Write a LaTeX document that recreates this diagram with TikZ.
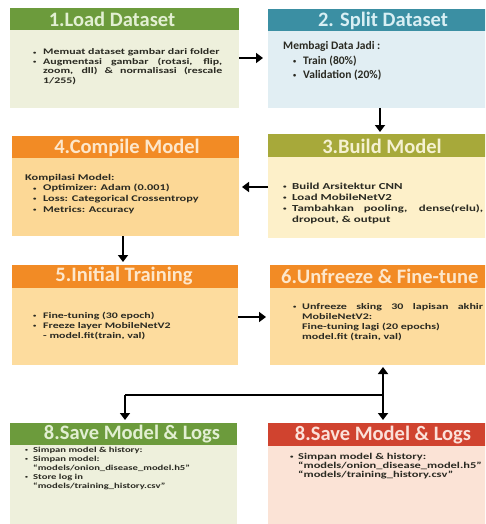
\documentclass[tikz,border=0pt]{standalone}
\usepackage{fontspec}
\usepackage{graphicx}
\setmainfont{Carlito}
\newfontfamily\fA{Carlito}[FakeStretch=1.4]
\newfontfamily\fT{Carlito}
\usetikzlibrary{arrows.meta}
\definecolor{gT}{HTML}{6C9B3C}\definecolor{gB}{HTML}{EEF0DC}\definecolor{gX}{HTML}{E2EFD2}
\definecolor{tT}{HTML}{3B8FA3}\definecolor{tB}{HTML}{E1EEF3}\definecolor{tX}{HTML}{D8EFF4}
\definecolor{oT}{HTML}{A7A93A}\definecolor{oB}{HTML}{FDF0C9}\definecolor{oX}{HTML}{F5F1D2}
\definecolor{rT}{HTML}{F28B25}\definecolor{rB}{HTML}{FCD896}\definecolor{rB2}{HTML}{FDDC9E}\definecolor{rX}{HTML}{FDE7CB}
\definecolor{dT}{HTML}{D0432F}\definecolor{dB}{HTML}{FBE3D6}\definecolor{dX}{HTML}{FBE1D9}
\definecolor{txt}{HTML}{2A2A22}
\newlength\bind
\newcommand\mybul{\raisebox{0.18ex}{\scalebox{0.55}{\textbullet}}}
\newcommand\bitem[1]{\par\hangindent=\bind\hangafter=1\noindent\makebox[\bind][l]{\mybul}#1}
\tikzset{
  panel/.style={rectangle, inner sep=0pt, outer sep=0pt, anchor=north west},
  ttl/.style={inner sep=0pt, font=\fT\bfseries\fontsize{20.5}{22}\selectfont},
  body/.style={inner sep=0pt, anchor=base west, text=txt},
  arr/.style={line width=2.8pt, -{Triangle[width=10pt,length=7pt]}},
  conn/.style={line width=2.3pt}
}
\begin{document}
\begin{tikzpicture}[x=1pt,y=-1pt]
\useasboundingbox (0,0) rectangle (485,524);
\fill[white] (0,0) rectangle (485,524);
\clip (0,0) rectangle (485,524);
% panels
\node[panel, fill=gT, minimum width=229pt, minimum height=22pt] (b1h) at (10,8) {};
\node[panel, fill=gB, minimum width=229pt, minimum height=78pt] (b1) at (10,30) {};
\node[panel, fill=tT, minimum width=229pt, minimum height=22pt] (b2h) at (268,9) {};
\node[panel, fill=tB, minimum width=229pt, minimum height=77pt] (b2) at (268,31) {};
\node[panel, fill=oT, minimum width=229pt, minimum height=23pt] (b3h) at (268,134) {};
\node[panel, fill=oB, minimum width=229pt, minimum height=81pt] (b3) at (268,157) {};
\node[panel, fill=rT, minimum width=227pt, minimum height=22pt] (b4h) at (12,136) {};
\node[panel, fill=rB, minimum width=227pt, minimum height=78pt] (b4) at (12,158) {};
\node[panel, fill=rT, minimum width=226pt, minimum height=23pt] (b5h) at (12,265) {};
\node[panel, fill=rB2, minimum width=226pt, minimum height=77pt] (b5) at (12,288) {};
\node[panel, fill=rT, minimum width=227pt, minimum height=23pt] (b6h) at (270,265) {};
\node[panel, fill=rB2, minimum width=227pt, minimum height=77pt] (b6) at (270,288) {};
\node[panel, fill=gT, minimum width=227pt, minimum height=22pt] (b8lh) at (10,423) {};
\node[panel, fill=gB, minimum width=227pt, minimum height=85pt] (b8l) at (10,445) {};
\node[panel, fill=dT, minimum width=229pt, minimum height=23pt] (b8rh) at (268,423) {};
\node[panel, fill=dB, minimum width=229pt, minimum height=85pt] (b8r) at (268,446) {};
% titles
\node[ttl, text=gX] (t1) at (112,19.5) {1.Load Dataset};
\node[ttl, text=tX] (t2) at (383,20.5) {2. Split Dataset};
\node[ttl, text=oX] (t3) at (382,146) {3.Build Model};
\node[ttl, text=rX] (t4) at (127,147.5) {4.Compile Model};
\node[ttl, text=rX] (t5) at (124,276.5) {5.Initial Training};
\node[ttl, text=rX, anchor=west] (t6) at (281,276.5) {6.Unfreeze \& Fine-tune};
\node[ttl, text=gX] (t8l) at (132,434.5) {8.Save Model \& Logs};
\node[ttl, text=dX] (t8r) at (383,435) {8.Save Model \& Logs};
% bodies
\node[body] (x1) at (33,55) {\parbox[t]{189pt}{\fA\bfseries\fontsize{8.5}{9.5}\selectfont\setlength\bind{10pt}%
\bitem{Memuat dataset gambar dari folder}%
\bitem{Augmentasi gambar (rotasi, flip,\linebreak zoom, dll) \& normalisasi (rescale\linebreak 1/255)}}};
\node[body] (x2) at (283,50) {\parbox[t]{190pt}{\fT\bfseries\fontsize{11.5}{14.5}\selectfont\setlength\bind{10pt}%
Membagi Data Jadi :\par\leftskip=10pt
\bitem{Train (80\%)}%
\bitem{Validation (20\%)}}};
\node[body] (x3) at (283,189) {\parbox[t]{200pt}{\fA\bfseries\fontsize{9.2}{11}\selectfont\setlength\bind{9pt}%
\bitem{Build Arsitektur CNN}%
\bitem{Load MobileNetV2}%
\bitem{Tambahkan pooling, dense(relu),\linebreak dropout, \& output}}};
\node[body] (x4) at (25,180) {\parbox[t]{200pt}{\fA\bfseries\fontsize{8.8}{10.8}\selectfont\setlength\bind{10pt}%
Kompilasi Model:\par\leftskip=8pt
\bitem{Optimizer: Adam (0.001)}%
\bitem{Loss: Categorical Crossentropy}%
\bitem{Metrics: Accuracy}}};
\node[body] (x5) at (33,318.5) {\parbox[t]{190pt}{\fA\bfseries\fontsize{8.5}{10.2}\selectfont\setlength\bind{10pt}%
\bitem{Fine-tuning (30 epoch)}%
\bitem{Freeze layer MobileNetV2\\- model.fit(train, val)}}};
\node[body] (x6) at (293,309) {\parbox[t]{190pt}{\fA\bfseries\fontsize{8.6}{10}\selectfont\setlength\bind{9pt}%
\bitem{Unfreeze sking 30 lapisan akhir\linebreak MobileNetV2:\\Fine-tuning lagi (20 epochs)\\model.fit (train, val)}}};
\node[body] (x8l) at (25,452) {\parbox[t]{205pt}{\fA\bfseries\fontsize{7.6}{9.2}\selectfont\setlength\bind{8pt}%
\bitem{Simpan model \& history:}%
\bitem{Simpan model:\\“models/onion\_disease\_model.h5”}%
\bitem{Store log in\\“models/training\_history.csv”}}};
\node[body] (x8r) at (290,459.5) {\parbox[t]{195pt}{\fA\bfseries\fontsize{8.9}{9.2}\selectfont\setlength\bind{8pt}%
\bitem{Simpan model \& history:\\“models/onion\_disease\_model.h5”\\“models/training\_history.csv”}}};
% connectors
\draw[arr] (b1.east |- 0,58) -- ([xshift=-5pt]b2.west |- 0,58);
\draw[arr] (b2.south -| 380,0) -- ([yshift=2pt]b3h.north -| 380,0);
\draw[arr] (b3.west |- 0,187) -- ([xshift=3pt]b4.east |- 0,187);
\draw[arr] (b4.south -| 123,0) -- ([yshift=3pt]b5h.north -| 123,0);
\draw[arr] (b5.east |- 0,317) -- ([xshift=-4pt]b6.west |- 0,317);
\coordinate (j) at (383,395);
\coordinate (jl) at (125,395);
\draw[conn] (j) -- (jl);
\draw[arr, line width=2.5pt] (j) -- ([yshift=-2pt]b6.south -| j);
\draw[arr, line width=2.5pt] (j) -- ([yshift=3pt]b8rh.north -| j);
\draw[arr, line width=2.5pt] (jl) -- ([yshift=3pt]b8lh.north -| jl);
\end{tikzpicture}
\end{document}
